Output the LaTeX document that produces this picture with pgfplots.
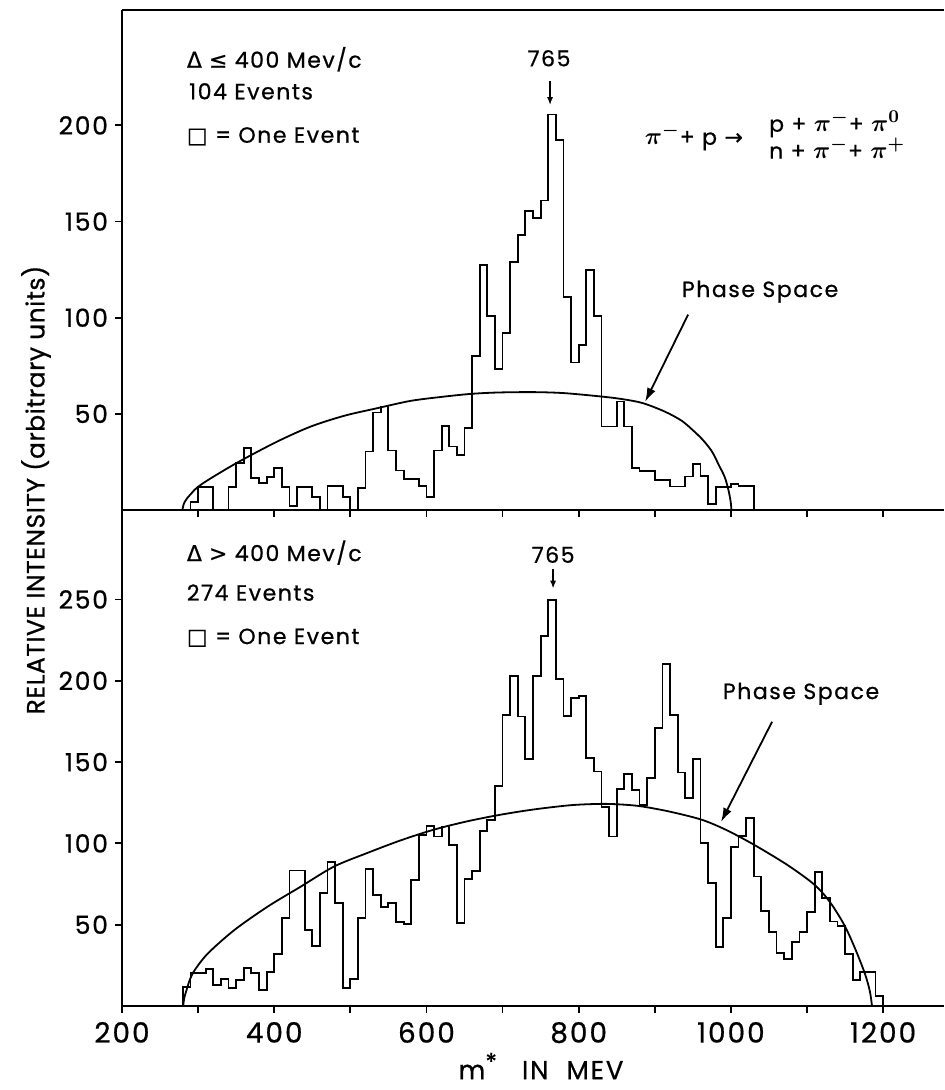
\documentclass[border=0pt]{standalone}
\usepackage{fontspec}
\setmainfont{Poppins}[LetterSpace=7, FakeBold=0.7]
\newfontfamily\sym{DejaVu Sans}[FakeBold=0.5]
\usepackage{pgfplots}
\pgfplotsset{compat=1.18}
\usetikzlibrary{arrows.meta}

\pgfplotsset{
  panel/.style={
    scale only axis, width=411pt,
    xmin=200, xmax=1280, ymin=0,
    axis x line=box, axis y line=left,
    axis line style={-, line width=1.1pt},
    tick align=outside, xtick pos=lower, ytick pos=left,
    major tick length=3.5pt, minor tick length=3.5pt,
    every tick/.style={black, line width=0.9pt},
    xtick={200,400,...,1200}, minor xtick={300,500,...,1100},
    /pgf/number format/assume math mode=true,
    yticklabel style={font=\fontsize{12.5}{14}\selectfont},
    xticklabel style={font=\fontsize{14}{16}\selectfont},
    clip=false,
  },
  hist/.style={const plot mark left, black, line width=0.9pt, mark=none},
  phase/.style={smooth, black, line width=0.9pt, mark=none},
}
\newcommand{\ann}{\fontsize{11}{13.5}\selectfont}
\newcommand{\piq}[1]{{\fontsize{13}{15}\selectfont\boldmath$\pi^{#1}$}}

\begin{document}
\begin{tikzpicture}
\useasboundingbox (0,0) rectangle (472pt,-545pt);

% upper panel
\begin{axis}[panel, at={(61pt,-255pt)}, anchor=south west, height=250pt,
  ymax=260, ytick={50,100,150,200}, yticklabels={50,100,150,200}, xticklabels={}]
\addplot[hist] table {
290 0
290 4.3
300 11.8
310 11.8
320 0
330 0
340 11.8
350 24.3
360 32.1
370 16.5
380 13.9
390 17
400 22
410 11.8
420 2.1
430 11.8
440 11.8
450 6.6
460 0
470 12.5
480 12.5
490 6.9
500 0
510 11.3
520 30.4
530 50.7
540 53.8
550 30.9
560 20.5
570 16
580 16
590 12.5
600 6.6
610 30.9
620 43.7
630 33
640 28.6
650 42.5
660 79.9
670 127.6
680 100.7
690 73.3
700 92
710 128.8
720 143.2
730 155.4
740 151.9
750 160.9
760 205.7
770 192.2
780 110.8
790 76.7
800 85.9
810 124.7
820 100.7
830 43.4
840 43.4
850 56.4
860 43.4
870 22
880 20.3
890 20.3
900 15.6
910 15.6
920 12.2
930 12.2
940 17.4
950 23.8
960 17.7
970 3
980 11.8
990 11.8
1000 13.4
1010 12.5
1020 12.5
1030 0
};
\addplot[phase] coordinates {
(279.5,0) (281,3) (285,5.8) (292,9) (299,11.8) (316.7,16.5) (354,25.2)
(404,35.6) (448,43.4) (492,49) (536,53) (580,56.8) (624,59) (659,60.4)
(694,61.1) (740,61.3) (780,60.8) (825,59.2) (855,57.8) (884,55.6)
(913,51.2) (935,46.5) (950,41.5) (963,36.5) (975,30.5) (984,23.5)
(992,17) (997,10) (999.8,4) (1000.7,0)
};
\node[anchor=west, font=\ann] at (axis cs:276,234.4) {{\sym Δ ≤} 400 Mev/c};
\node[anchor=west, font=\ann] at (axis cs:279,217.7) {104 Events};
\node[anchor=west, font=\ann] at (axis cs:276,194.3) {{\sym □} = One Event};
\node[font=\ann] at (axis cs:761,234.9) {765};
\draw[-{Latex[length=4pt,width=3pt]}, line width=0.9pt] (axis cs:762.4,222.9) -- (axis cs:762.4,210.5);
\node[anchor=east, font=\ann] at (axis cs:1025,193.75) {\piq{-}+ p {\sym →}};
\node[anchor=west, align=left, font=\ann] at (axis cs:1041,195) {p + \piq{-}+ \piq{0}\\n + \piq{-}+ \piq{+}};
\node[font=\ann] at (axis cs:1038.4,113.5) {Phase Space};
\draw[-{Latex[length=7pt,width=4.5pt]}, line width=0.9pt] (axis cs:943.8,101.6) -- (axis cs:887.3,56.25);
\end{axis}

% lower panel
\begin{axis}[panel, at={(61pt,-503pt)}, anchor=south west, height=248pt,
  ymax=305, ytick={50,100,150,200,250}, yticklabels={50,100,150,200,250},
  xticklabels={200,400,600,800,1000,1200},
  xticklabel style={yshift=-1pt}]
\addplot[hist] table {
280 0
280 11.9
290 20.1
300 20.1
310 22.6
320 12.9
330 16.6
340 10.9
350 16
360 23.2
370 20.5
380 9.8
390 21.1
400 31.8
410 54
420 83.3
430 83.3
440 46.8
450 36.9
460 69.7
470 88.8
480 63.2
490 10.9
500 16.6
510 54
520 84.3
530 68.3
540 61.1
550 63.2
560 51.9
570 50.3
580 77.5
590 105.2
600 110.8
610 104.2
620 110.4
630 99.1
640 50.9
650 77.9
660 83.1
670 107.8
680 114.5
690 135.4
700 179
710 203
720 178
730 152
740 203
750 227.3
760 249.8
770 201
780 178.5
790 189.3
800 190.4
810 152.4
820 144.2
830 122.3
840 104.2
850 133.5
860 142.6
870 133
880 123.7
890 140.1
900 170.9
910 210.5
920 179
930 143.6
940 127.8
950 152
960 100.1
970 75.5
980 36.1
990 53.9
1000 97.6
1010 104.5
1020 115.5
1030 79.6
1040 58.5
1050 45.7
1060 32.4
1070 28.7
1080 39.6
1090 45.7
1100 58
1110 82.5
1120 66.5
1130 52
1140 49.3
1150 31.8
1160 16.2
1170 20.8
1180 20.8
1190 6
1200 0
};
\addplot[phase] coordinates {
(280.4,0) (281.8,5) (284.8,9.8) (289,16) (295.7,22.2) (313,32.4) (347.8,46.8)
(391.3,61.1) (434.8,73.4) (478.3,85.7) (521.7,94) (565.2,101.7) (608.7,108.3)
(652,113.4) (695.7,117.5) (740,120.8) (790,123.5) (831,124.3) (860,123.8)
(883.4,122.7) (920,119.5) (962,114.5) (995,108) (1031,99) (1075,86.5)
(1110,74.5) (1130,64) (1149,49.8) (1163,35.5) (1176,20) (1182.6,9)
(1185.4,0)
};
\node[anchor=west, font=\ann] at (axis cs:276,278.8) {{\sym Δ >} 400 Mev/c};
\node[anchor=west, font=\ann] at (axis cs:276,254.2) {274 Events};
\node[anchor=west, font=\ann] at (axis cs:276,226.5) {{\sym □} = One Event};
\node[font=\ann] at (axis cs:766.4,277.5) {765};
\draw[-{Latex[length=4pt,width=3pt]}, line width=0.9pt] (axis cs:766.4,268.9) -- (axis cs:766.4,256.6);
\node[font=\ann] at (axis cs:1092.2,192) {Phase Space};
\draw[-{Latex[length=7pt,width=4.5pt]}, line width=0.9pt] (axis cs:1054.1,174.8) -- (axis cs:987.1,113.2);
\end{axis}

\node[rotate=90, font=\fontsize{12.5}{14}\selectfont\addfontfeatures{LetterSpace=2}] at (18pt,-245pt) {RELATIVE INTENSITY (arbitrary units)};
\node[font=\fontsize{13}{15}\selectfont] at (270.5pt,-533pt) {m\textsuperscript{\large*}\hspace{12pt}IN\hspace{9pt}MEV};
\end{tikzpicture}
\end{document}
